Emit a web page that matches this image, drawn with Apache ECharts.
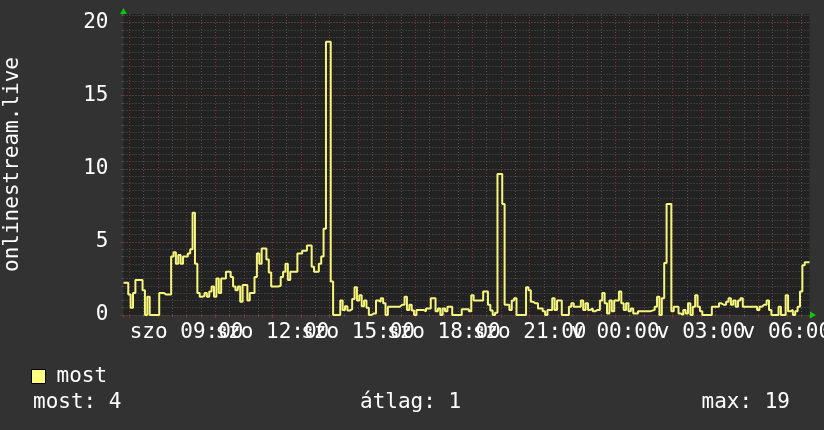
<!DOCTYPE html>
<html><head><meta charset="utf-8">
<script src="https://cdn.jsdelivr.net/npm/echarts@6/dist/echarts.min.js"></script>
<style>html,body{margin:0;padding:0;background:#323232;}#c{width:824px;height:430px;}</style>
</head><body><div id="c"></div>
<script>
const SERIES_NAME = 'most';
const AXIS_TITLE = 'onlinestream.live';
const DAY_NAMES = ['szo', 'v'];
const STAT_LABELS = ['most:', 'átlag:', 'max:'];
const START_HOUR = 6 + 47.5 / 60;   // Saturday 06:47:30
const STEP_MIN = 5;
const Y_MAX = 20.59;
const VALUES = [
 2.2,2.2,1.4,0.5,1.5,2.4,2.4,2.4,1.7,0,
 1.25,0,0,0,0,1.5,1.5,1.4,1.4,1.4,
 4.0,4.3,3.5,4.1,3.5,4.0,4.0,4.2,4.5,7.0,
 3.5,1.5,1.25,1.3,1.5,1.25,1.6,1.95,1.25,2.5,
 1.5,2.5,2.5,2.95,2.95,2.6,1.95,1.7,1.95,0.9,
 2.05,2.05,1.0,1.5,1.5,2.6,4.2,3.5,4.55,4.55,
 3.8,2.9,1.95,1.95,1.95,2.0,2.6,2.95,3.5,2.4,
 2.95,2.95,2.95,4.2,4.2,4.4,4.4,4.75,4.75,3.3,
 2.95,2.95,3.5,4.0,5.9,18.7,18.7,2.3,0,0,
 0,1.0,0.35,0.6,0.3,0.4,1.1,1.9,1.0,1.35,
 0.6,1.0,0.5,0,0.1,0.1,1.0,0.9,1.15,0.8,
 0,0.57,0.57,0.57,0.57,0.57,0.7,0.7,1.25,0.35,
 0.7,0.3,0,0.35,0.35,0.35,0.25,0.45,0.45,1.15,
 1.15,0.25,0.45,0,0.45,0.25,0.57,0.57,0,0,
 0,0,0.4,0.4,0.4,0.25,1.35,1.0,1.0,1.0,
 1.0,1.6,1.6,0.7,0.3,0,0.15,9.65,9.65,7.6,
 0.7,0.7,0.35,1.0,1.15,0,0,0,0,1.9,
 1.7,0.9,0.8,0.8,0.45,0.45,0.25,0,0.35,0.35,
 1.15,0.35,1.0,1.0,0,0,0,0.57,0.8,0.57,
 0.57,0.57,1.0,0.35,0.8,0.35,0.45,0.25,0.35,0.35,
 1.0,1.5,0.8,0.1,1.0,0.25,1.0,1.0,1.6,0.8,
 0.35,0.8,0.25,0.45,0.1,0.1,0.25,0.25,0.25,0.25,
 0.25,0.3,0.35,0.57,1.25,0,1.15,3.55,7.6,7.6,
 0.25,0.57,0.57,0.1,0,0.35,0.1,0.8,0,0.57,
 1.35,0.57,0.25,0,0,0,0,0.57,0.57,0.57,
 0.8,0.7,0.7,0.9,1.15,0.7,1.0,0.57,1.0,1.15,
 0.57,0.57,0.57,0.57,0.57,0.57,0.35,0.57,0.7,0.7,
 1.0,0.35,0,0,0,0.57,0,0,1.35,0.25,
 0.35,0,0.25,0.57,1.6,3.4,3.6,3.6
];

const END_HOUR = START_HOUR + VALUES.length * STEP_MIN / 60;
const data = VALUES.map((v, i) => [START_HOUR + i * STEP_MIN / 60, v]);
data.push([END_HOUR, VALUES[VALUES.length - 1]]);

const statLast = Math.round(VALUES[VALUES.length - 1]);
const statAvg = Math.round(VALUES.reduce((a, b) => a + b, 0) / VALUES.length);
const statMax = Math.round(Math.max(...VALUES));

const FONT = '"DejaVu Sans Mono", monospace';
const TXT = '#ffffff';
const MINOR = '#525252';
const MAJOR = '#7a3636';
const ARROW = '#00cc00';

const xBase = { type: 'value', min: START_HOUR, max: END_HOUR, position: 'bottom', axisLine: { show: false, onZero: false }, axisLabel: { show: false } };
const yBase = { type: 'value', min: 0, max: Y_MAX, position: 'left', axisLine: { show: false } };

const chart = echarts.init(document.getElementById('c'), null, { renderer: 'canvas' });
chart.setOption({
  backgroundColor: '#323232',
  animation: false,
  textStyle: { fontFamily: FONT },
  grid: { left: 123.5, top: 14, width: 686, height: 301, show: true, backgroundColor: '#222222', borderWidth: 0,
          containLabel: false, outerBoundsMode: 'none' },
  legend: {
    left: 31, top: 366, padding: 0, icon: 'rect', itemWidth: 14, itemHeight: 14,
    itemStyle: { borderColor: '#000000', borderWidth: 1 },
    textStyle: { color: TXT, fontSize: 21, fontFamily: FONT, padding: [0, 0, 0, 6] },
    data: [SERIES_NAME]
  },
  xAxis: [
    Object.assign({}, xBase, { splitNumber: 48,
      axisTick: { show: true, length: 2, lineStyle: { color: MINOR } },
      splitLine: { show: true, showMinLine: false, showMaxLine: false, lineStyle: { color: MINOR, width: 1, type: [1, 2] } } }),
    Object.assign({}, xBase, { splitNumber: 24,
      axisTick: { show: true, length: 3, lineStyle: { color: MAJOR } },
      splitLine: { show: true, showMinLine: false, showMaxLine: false, lineStyle: { color: MAJOR, width: 1, type: [1, 2] } } }),
    Object.assign({}, xBase, { splitNumber: 8,
      axisLine: { show: true, onZero: false, symbol: ['none', 'triangle'], symbolSize: [7, 6], symbolOffset: [0, 3.5], lineStyle: { color: ARROW, width: 0 } },
      axisTick: { show: false }, splitLine: { show: false },
      axisLabel: { show: true, color: TXT, fontSize: 21, fontFamily: FONT, margin: 7, showMinLabel: false, showMaxLabel: false, hideOverlap: false,
        formatter: v => { const h = Math.round(v); return DAY_NAMES[Math.floor(h / 24)] + ' ' + String(h % 24).padStart(2, '0') + ':00'; } } })
  ],
  yAxis: [
    Object.assign({}, yBase, { interval: 0.5, axisLabel: { show: false },
      axisTick: { show: true, length: 2, lineStyle: { color: MINOR } },
      splitLine: { show: true, showMaxLine: false, lineStyle: { color: MINOR, width: 1, type: [1, 2] } } }),
    Object.assign({}, yBase, { interval: 5,
      name: AXIS_TITLE, nameLocation: 'middle', nameGap: 100, nameRotate: 90,
      nameTextStyle: { color: TXT, fontSize: 21, fontFamily: FONT },
      axisLine: { show: true, symbol: ['none', 'triangle'], symbolSize: [7, 6], symbolOffset: [0, 3], lineStyle: { color: ARROW, width: 0 } },
      axisTick: { show: true, length: 3, lineStyle: { color: MAJOR } },
      axisLabel: { show: true, color: TXT, fontSize: 21, fontFamily: FONT, margin: 15, showMaxLabel: false,
        formatter: v => (v % 5 === 0 ? String(v) : '') },
      splitLine: { show: true, showMaxLine: false, lineStyle: { color: MAJOR, width: 1, type: [1, 2] } } })
  ],
  graphic: [
    { type: 'text', left: 33, top: 392, style: { text: STAT_LABELS[0] + ' ' + statLast, fill: TXT, font: '21px ' + FONT } },
    { type: 'text', left: 360, top: 392, style: { text: STAT_LABELS[1] + ' ' + statAvg, fill: TXT, font: '21px ' + FONT } },
    { type: 'text', right: 34, top: 392, style: { text: STAT_LABELS[2] + ' ' + statMax, fill: TXT, font: '21px ' + FONT } }
  ],
  series: [{
    name: SERIES_NAME, type: 'line', xAxisIndex: 0, yAxisIndex: 0, step: 'end', symbol: 'none',
    data: data, color: '#ffff80', lineStyle: { color: '#f6f67c', width: 2 }, z: 5
  }]
});
</script></body></html>
